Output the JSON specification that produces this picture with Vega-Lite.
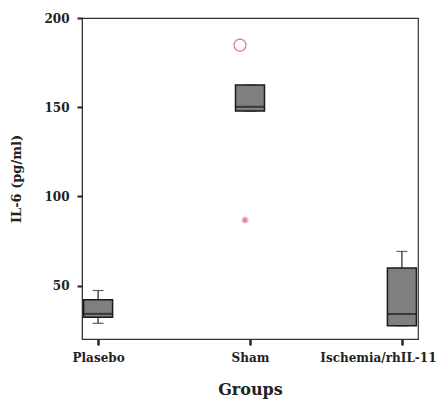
{
  "$schema": "https://vega.github.io/schema/vega-lite/v6.json",
  "width": 336,
  "height": 321,
  "autosize": "none",
  "padding": {"left": 82, "top": 18, "right": 25, "bottom": 69},
  "background": "white",
  "config": {
    "view": {"stroke": "#333333", "strokeWidth": 1.2},
    "axis": {
      "grid": false,
      "domainColor": "#333333",
      "tickColor": "#222222",
      "labelFont": "DejaVu Serif",
      "labelFontWeight": "bold",
      "labelFontSize": 12,
      "labelColor": "#222222",
      "titleFont": "DejaVu Serif",
      "titleFontWeight": "bold",
      "titleColor": "#222222"
    }
  },
  "datasets": {
    "boxes": [
      {"group": "Plasebo", "lower": 28.8, "q1": 32.2, "median": 34.1, "q3": 42.0, "upper": 47.2},
      {"group": "Sham", "lower": 147.8, "q1": 147.8, "median": 150.2, "q3": 162.4, "upper": 162.4},
      {"group": "Ischemia/rhIL-11", "lower": 27.4, "q1": 27.4, "median": 34.0, "q3": 59.8, "upper": 69.1}
    ],
    "outliers": [
      {"group": "Sham", "value": 184.8, "kind": "circle"},
      {"group": "Sham", "value": 86.7, "kind": "extreme"}
    ]
  },
  "encoding": {
    "x": {
      "field": "group",
      "type": "nominal",
      "sort": ["Plasebo", "Sham", "Ischemia/rhIL-11"],
      "scale": {"type": "point", "padding": 0.106},
      "axis": {
        "title": "Groups",
        "titleFontSize": 16,
        "titlePadding": 18,
        "labelAngle": 0,
        "tickSize": 6,
        "tickWidth": 2.5,
        "labelPadding": 7,
        "labelOffset": {"condition": {"test": "datum.value === 'Ischemia/rhIL-11'", "value": -24}, "value": 0},
        "domain": true
      }
    }
  },
  "layer": [
    {
      "data": {"name": "boxes"},
      "mark": {"type": "rule", "color": "#222222", "strokeWidth": 1.2},
      "encoding": {
        "y": {
          "field": "lower",
          "type": "quantitative",
          "scale": {"domain": [20, 200], "nice": false, "zero": false},
          "axis": {
            "title": "IL-6 (pg/ml)",
            "titleFontSize": 13,
            "titlePadding": 20,
            "values": [50, 100, 150, 200],
            "tickSize": 5,
            "tickWidth": 2,
            "labelPadding": 8
          }
        },
        "y2": {"field": "upper"}
      }
    },
    {
      "data": {"name": "boxes"},
      "mark": {"type": "tick", "color": "#222222", "size": 11, "thickness": 1.2},
      "encoding": {"y": {"field": "upper", "type": "quantitative"}}
    },
    {
      "data": {"name": "boxes"},
      "mark": {"type": "tick", "color": "#222222", "size": 11, "thickness": 1.2},
      "encoding": {"y": {"field": "lower", "type": "quantitative"}}
    },
    {
      "data": {"name": "boxes"},
      "mark": {"type": "bar", "size": 29, "fill": "#7f7f7f", "stroke": "#1a1a1a", "strokeWidth": 1.5},
      "encoding": {
        "y": {"field": "q1", "type": "quantitative"},
        "y2": {"field": "q3"}
      }
    },
    {
      "data": {"name": "boxes"},
      "mark": {"type": "tick", "color": "#1a1a1a", "size": 29, "thickness": 2},
      "encoding": {"y": {"field": "median", "type": "quantitative"}}
    },
    {
      "data": {"name": "outliers"},
      "transform": [{"filter": "datum.kind === 'circle'"}],
      "mark": {"type": "point", "shape": "circle", "filled": false, "size": 144, "stroke": "#c0404f", "strokeWidth": 1.2, "xOffset": -10},
      "encoding": {"y": {"field": "value", "type": "quantitative"}}
    },
    {
      "data": {"name": "outliers"},
      "transform": [{"filter": "datum.kind === 'extreme'"}],
      "mark": {"type": "point", "shape": "M-1,0L1,0M0,-1L0,1M-0.7,-0.7L0.7,0.7M-0.7,0.7L0.7,-0.7", "filled": false, "size": 50, "stroke": "#e0507a", "strokeWidth": 1.2, "xOffset": -5},
      "encoding": {"y": {"field": "value", "type": "quantitative"}}
    }
  ]
}
